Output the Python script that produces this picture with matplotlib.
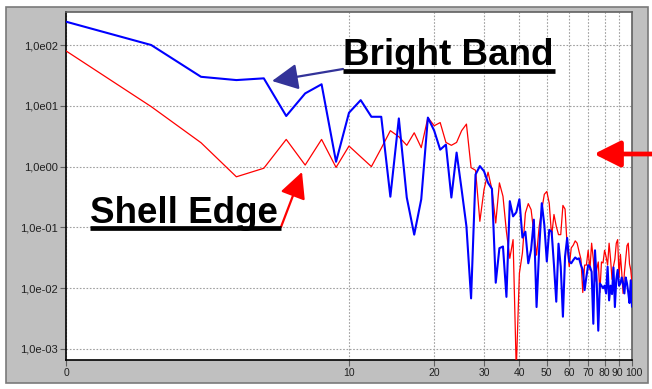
import matplotlib
matplotlib.use("Agg")
import matplotlib.pyplot as plt
import matplotlib.transforms as mtransforms
from matplotlib.patches import Rectangle
from matplotlib.lines import Line2D

plt.rcParams['font.family'] = ['Liberation Sans', 'DejaVu Sans']

# Spectrum index (plotted on a log axis, first bin labelled "0")
bins = list(range(1, 101))

bright_band = [
    242, 100, 30, 26.5, 28.3, 6.8, 16, 22.6, 1.2, 7.7,
    12.4, 6.6, 6.6, 0.32, 6.2, 0.31, 0.076, 0.29, 6.4, 3.9,
    1.9, 2.3, 0.31, 1.7, 0.42, 0.104, 0.0068, 0.74, 1.02, 0.84,
    0.54, 0.43, 0.0123, 0.0455, 0.0485, 0.0072, 0.27, 0.152, 0.177, 0.29,
    0.068, 0.085, 0.0257, 0.043, 0.134, 0.0049, 0.045, 0.25, 0.11, 0.0275,
    0.091, 0.085, 0.024, 0.006, 0.054, 0.0226, 0.0034, 0.033, 0.067, 0.0275,
    0.0257, 0.029, 0.032, 0.030, 0.031, 0.024, 0.020, 0.0093, 0.0155, 0.024,
    0.0226, 0.0186, 0.0026, 0.042, 0.0134, 0.002, 0.012, 0.011, 0.010, 0.011,
    0.0082, 0.0226, 0.0063, 0.011, 0.008, 0.022, 0.0049, 0.014, 0.020, 0.011,
    0.012, 0.015, 0.012, 0.0082, 0.015, 0.012, 0.0085, 0.0057, 0.0135, 0.005,
]

shell_edge = [
    80, 9.7, 2.47, 0.68, 0.94, 2.8, 1.06, 2.8, 0.97, 2.18,
    1.45, 1.0, 2.0, 3.9, 3.1, 2.24, 3.6, 2.05, 6.4, 4.7,
    5.3, 2.5, 2.24, 2.5, 3.9, 5.0, 0.96, 0.87, 0.126, 0.42,
    0.81, 0.42, 0.118, 0.54, 0.325, 0.085, 0.031, 0.063, 0.00045, 0.0176,
    0.038, 0.172, 0.246, 0.196, 0.081, 0.035, 0.104, 0.196, 0.35, 0.39,
    0.25, 0.071, 0.163, 0.104, 0.076, 0.076, 0.23, 0.20, 0.049, 0.0226,
    0.046, 0.051, 0.06, 0.055, 0.04, 0.03, 0.0085, 0.024, 0.024, 0.042,
    0.02, 0.055, 0.03, 0.013, 0.02, 0.027, 0.0085, 0.027, 0.026, 0.042,
    0.033, 0.024, 0.055, 0.03, 0.014, 0.023, 0.03, 0.055, 0.063, 0.015,
    0.036, 0.018, 0.0082, 0.018, 0.03, 0.05, 0.055, 0.025, 0.02, 0.012,
]

x_ticks = [1, 10, 20, 30, 40, 50, 60, 70, 80, 90, 100]
x_tick_labels = ["0", "10", "20", "30", "40", "50", "60", "70", "80", "90", "100"]
y_ticks = [1e2, 1e1, 1e0, 1e-1, 1e-2, 1e-3]
y_tick_labels = ["1,0e02", "1,0e01", "1,0e00", "1,0e-01", "1,0e-02", "1,0e-03"]

W, H = 652, 389
fig = plt.figure(figsize=(W / 100, H / 100), dpi=100, facecolor="white")

# grey panel behind the plot
fig.patches.append(Rectangle((6 / W, 1 - 383 / H), (648 - 6) / W, (383 - 7) / H,
                             transform=fig.transFigure, facecolor="#c0c0c0",
                             edgecolor="#7a7a7a", lw=1.2, zorder=-1))

ax = fig.add_axes([66 / W, 1 - 360 / H, (632 - 66) / W, (360 - 12) / H])
ax.set_facecolor("white")
ax.set_xscale("log")
ax.set_yscale("log")
ax.set_xlim(1, 100)
ax.set_ylim(10 ** -3.181, 10 ** 2.543)

ax.plot(bins, shell_edge, color="#ff0000", lw=0.9, zorder=3)
ax.plot(bins, bright_band, color="#0000ff", lw=1.5, zorder=4)

ax.set_xticks(x_ticks)
ax.set_xticklabels(x_tick_labels)
ax.xaxis.set_minor_locator(matplotlib.ticker.NullLocator())
ax.set_yticks(y_ticks)
ax.set_yticklabels(y_tick_labels)
ax.yaxis.set_minor_locator(matplotlib.ticker.NullLocator())
ax.tick_params(axis="y", which="major", labelsize=8, length=4, width=0.8,
               color="#606060", labelcolor="#202020", pad=2)
ax.tick_params(axis="x", which="major", labelsize=7.5, length=4, width=0.8,
               color="#606060", labelcolor="#202020", pad=2)

# the last two tick labels sit very close together; nudge them apart
xlabels = ax.get_xticklabels()
xlabels[-2].set_transform(xlabels[-2].get_transform() +
                          mtransforms.ScaledTranslation(-2 / 100, 0, fig.dpi_scale_trans))
xlabels[-1].set_transform(xlabels[-1].get_transform() +
                          mtransforms.ScaledTranslation(2 / 100, 0, fig.dpi_scale_trans))

ax.grid(True, which="major", color="#a0a0a0", lw=0.8, linestyle=(0, (1.5, 1.5)))
for s in ax.spines.values():
    s.set_linewidth(1.2)
    s.set_color("black")
ax.spines["right"].set_color("#606060")
ax.spines["top"].set_color("#606060")


def fy(y):
    return H - y


# labels with thick underlines
fig.text(343 / W, 1 - 65 / H, "Bright Band", fontsize=26.5, fontweight="bold",
         va="baseline", ha="left", color="black")
fig.add_artist(Line2D([343 / W, 555 / W], [1 - 70.5 / H, 1 - 70.5 / H],
                      transform=fig.transFigure, color="black", lw=3.4,
                      solid_capstyle="butt"))

fig.text(90 / W, 1 - 223 / H, "Shell Edge", fontsize=26.5, fontweight="bold",
         va="baseline", ha="left", color="black")
fig.add_artist(Line2D([90 / W, 281 / W], [1 - 228 / H, 1 - 228 / H],
                      transform=fig.transFigure, color="black", lw=3.4,
                      solid_capstyle="butt"))

ax.annotate("", xy=(272, fy(81)), xytext=(343, fy(69)),
            xycoords="figure pixels", textcoords="figure pixels",
            annotation_clip=False,
            arrowprops=dict(arrowstyle="-|>,head_length=0.8,head_width=0.4",
                            mutation_scale=20, color="#333399", lw=1.6,
                            shrinkA=0, shrinkB=0))

ax.annotate("", xy=(302, fy(172)), xytext=(281, fy(227)),
            xycoords="figure pixels", textcoords="figure pixels",
            annotation_clip=False,
            arrowprops=dict(arrowstyle="-|>,head_length=0.8,head_width=0.4",
                            mutation_scale=20, color="#ff0000", lw=1.6,
                            shrinkA=0, shrinkB=0))

ax.annotate("", xy=(594, fy(154)), xytext=(653, fy(154)),
            xycoords="figure pixels", textcoords="figure pixels",
            annotation_clip=False,
            arrowprops=dict(arrowstyle="-|>,head_length=0.8,head_width=0.4",
                            mutation_scale=20, color="#ff0000", lw=3.4,
                            shrinkA=0, shrinkB=0))

fig.savefig("out.png", dpi=100)
